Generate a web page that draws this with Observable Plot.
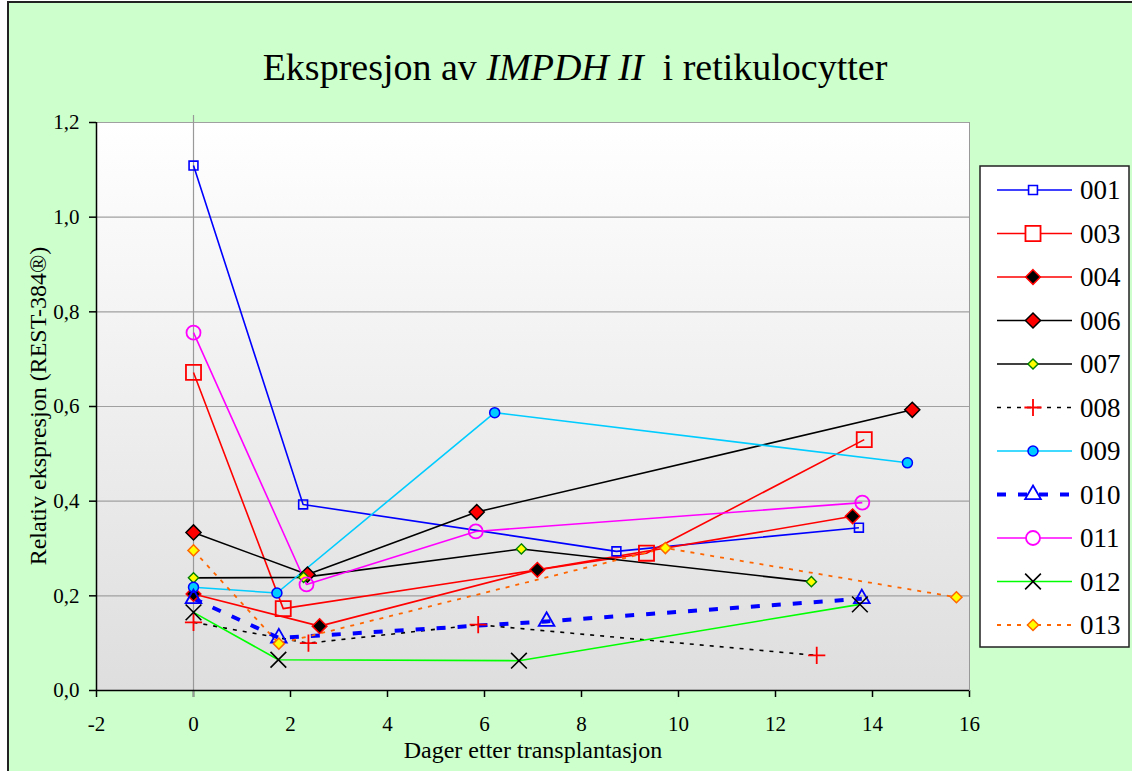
<!DOCTYPE html>
<html>
<head>
<meta charset="utf-8">
<script src="https://cdn.jsdelivr.net/npm/d3@7"></script>
<script src="https://cdn.jsdelivr.net/npm/@observablehq/plot@0.6"></script>
<style>
  html, body { margin: 0; padding: 0; overflow: hidden; background: #ffffff; }
  #wrap { position: relative; width: 1132px; height: 771px; overflow: hidden; font-family: "Liberation Serif", "Times New Roman", serif; color: #000; }
  #bg { position: absolute; left: 7px; top: 1px; width: 1140px; height: 790px; background: #ccffcc; border-left: 2px solid #222; border-top: 2px solid #222; }
  #title { position: absolute; left: 0; width: 1150px; top: 48px; text-align: center; font-size: 38px; line-height: 1; white-space: pre; }
  #chart { position: absolute; left: 0; top: 0; }
  #xtitle { position: absolute; left: 0; width: 1066px; top: 738px; text-align: center; font-size: 24px; line-height: 1; }
  #ytitle { position: absolute; left: 38px; top: 406px; font-size: 24px; line-height: 1; white-space: nowrap; transform: translate(-50%, -50%) rotate(-90deg); }
  #legend { position: absolute; left: 0; top: 0; }
</style>
</head>
<body>
<div id="wrap">
  <div id="bg"></div>
  <div id="chart"></div>
  <div id="title">Ekspresjon av <i>IMPDH II</i>  i retikulocytter</div>
  <div id="xtitle">Dager etter transplantasjon</div>
  <div id="ytitle">Relativ ekspresjon (REST-384®)</div>
  <svg id="legend" width="1132" height="771"></svg>
</div>
<script>
// ---- data ----
const seriesNames = ["001","003","004","006","007","008","009","010","011","012","013"];
const xTicks = [-2, 0, 2, 4, 6, 8, 10, 12, 14, 16];
const yTicks = [0, 0.2, 0.4, 0.6, 0.8, 1.0, 1.2];

const x001 = [0, 2.26, 8.72, 13.72],  y001 = [1.109, 0.393, 0.294, 0.344];
const x003 = [0, 1.85, 9.34, 13.83],  y003 = [0.672, 0.173, 0.290, 0.530];
const x004 = [0, 2.60, 7.09, 13.59],  y004 = [0.204, 0.136, 0.255, 0.368];
const x006 = [0, 2.35, 5.84, 14.82],  y006 = [0.334, 0.245, 0.377, 0.593];
const x007 = [0, 2.27, 6.76, 12.74],  y007 = [0.238, 0.239, 0.299, 0.230];
const x008 = [0, 2.37, 5.87, 12.85],  y008 = [0.144, 0.100, 0.139, 0.074];
const x009 = [0, 1.72, 6.21, 14.72],  y009 = [0.218, 0.206, 0.587, 0.481];
const x010 = [0, 1.76, 7.28, 13.78],  y010 = [0.194, 0.111, 0.146, 0.194];
const x011 = [0, 2.33, 5.82, 13.79],  y011 = [0.756, 0.224, 0.336, 0.397];
const x012 = [0, 1.75, 6.71, 13.74],  y012 = [0.165, 0.065, 0.063, 0.182];
const x013 = [0, 1.76, 9.73, 15.73],  y013 = [0.296, 0.099, 0.301, 0.197];

const xs = {"001": x001, "003": x003, "004": x004, "006": x006, "007": x007, "008": x008, "009": x009, "010": x010, "011": x011, "012": x012, "013": x013};
const ys = {"001": y001, "003": y003, "004": y004, "006": y006, "007": y007, "008": y008, "009": y009, "010": y010, "011": y011, "012": y012, "013": y013};

// ---- styles ----
const styles = {
  "001": {line: "#0000ff", lw: 1.6, dash: null,  symbol: "square",   r: 5.0, fill: "none",    stroke: "#0000ff", sw: 1.6},
  "003": {line: "#ff0000", lw: 1.6, dash: null,  symbol: "square",   r: 8.5, fill: "none",    stroke: "#ff0000", sw: 1.8},
  "004": {line: "#ff0000", lw: 1.6, dash: null,  symbol: "diamond2", r: 6.6, fill: "#000000", stroke: "#ff0000", sw: 1.5},
  "006": {line: "#000000", lw: 1.6, dash: null,  symbol: "diamond2", r: 6.8, fill: "#ff0000", stroke: "#000000", sw: 1.5},
  "007": {line: "#000000", lw: 1.6, dash: null,  symbol: "diamond2", r: 4.6, fill: "#ffff00", stroke: "#008000", sw: 1.4},
  "008": {line: "#000000", lw: 1.6, dash: "4,6", symbol: "plus",     r: 5.6, fill: "none",    stroke: "#ff0000", sw: 1.8},
  "009": {line: "#00ccff", lw: 1.6, dash: null,  symbol: "circle",   r: 5.0, fill: "#00ccff", stroke: "#0000ff", sw: 1.5},
  "010": {line: "#0000ff", lw: 4.0, dash: "9,12", symbol: "triangle2", r: 7.5, fill: "none", stroke: "#0000ff", sw: 1.8},
  "011": {line: "#ff00ff", lw: 1.6, dash: null,  symbol: "circle",   r: 7.0, fill: "none",    stroke: "#ff00ff", sw: 1.8},
  "012": {line: "#00ff00", lw: 1.6, dash: null,  symbol: "times",    r: 7.2, fill: "none",    stroke: "#000000", sw: 1.6},
  "013": {line: "#ff6600", lw: 1.8, dash: "4,6", symbol: "diamond2", r: 5.0, fill: "#ffff00", stroke: "#ff6600", sw: 1.5}
};

const fmtY = d => d.toFixed(1).replace(".", ",");

const marks = [
  Plot.frame({fill: "url(#plotbg)", stroke: "#999999"}),
  Plot.ruleY(yTicks.filter(d => d > 0), {stroke: "#a0a0a0", strokeWidth: 1.2}),
  Plot.ruleX([0], {stroke: "#999999", strokeWidth: 1.2, y1: -0.015, y2: 1.215}),
  Plot.ruleX([-2], {stroke: "#000000", strokeWidth: 1.5}),
  Plot.ruleY([0], {stroke: "#000000", strokeWidth: 1.5})
];

for (const s of seriesNames) {
  const st = styles[s];
  const rows = xs[s].map((x, i) => ({x, y: ys[s][i]}));
  marks.push(Plot.line(rows, {x: "x", y: "y", stroke: st.line, strokeWidth: st.lw, strokeDasharray: st.dash ?? undefined, strokeLinecap: "butt"}));
}
for (const s of seriesNames) {
  const st = styles[s];
  const rows = xs[s].map((x, i) => ({x, y: ys[s][i]}));
  marks.push(Plot.dot(rows, {x: "x", y: "y", symbol: st.symbol, r: st.r, fill: st.fill, stroke: st.stroke, strokeWidth: st.sw}));
}

const chart = Plot.plot({
  width: 1132,
  height: 771,
  marginLeft: 96,
  marginRight: 163,
  marginTop: 122,
  marginBottom: 81,
  style: {background: "transparent", fontFamily: "'Liberation Serif', 'Times New Roman', serif", fontSize: "21px", color: "#000", maxWidth: "none"},
  x: {domain: [-2, 16], ticks: xTicks, tickFormat: d => String(d), tickSize: 7, tickPadding: 19, label: null},
  y: {domain: [0, 1.2], ticks: yTicks, tickFormat: fmtY, tickSize: 7, tickPadding: 10, label: null},
  marks
});

// gradient for plot area background
const svgSel = d3.select(chart);
const defs = svgSel.insert("defs", ":first-child");
const grad = defs.append("linearGradient").attr("id", "plotbg").attr("x1", 0).attr("y1", 0).attr("x2", 0).attr("y2", 1);
grad.append("stop").attr("offset", "0%").attr("stop-color", "#ffffff");
grad.append("stop").attr("offset", "100%").attr("stop-color", "#dedede");
svgSel.selectAll("g[aria-label='x-axis tick'] path, g[aria-label='y-axis tick'] path").attr("stroke", "#000").attr("stroke-width", 1.5);
document.getElementById("chart").appendChild(chart);

// ---- legend ----
const symbolMap = {
  square: d3.symbolSquare, diamond2: d3.symbolDiamond2, plus: d3.symbolPlus,
  circle: d3.symbolCircle, triangle2: d3.symbolTriangle2, times: d3.symbolTimes
};
const lg = d3.select("#legend");
const lx = 980, ly = 166, lw = 149, lh = 481;
lg.append("rect").attr("x", lx).attr("y", ly).attr("width", lw).attr("height", lh)
  .attr("fill", "#ffffff").attr("stroke", "#222").attr("stroke-width", 1.5);
seriesNames.forEach((s, i) => {
  const st = styles[s];
  const cy = 190 + i * 43.5;
  const g = lg.append("g");
  g.append("line").attr("x1", 997).attr("x2", 1072).attr("y1", cy).attr("y2", cy)
    .attr("stroke", st.line).attr("stroke-width", st.lw)
    .attr("stroke-dasharray", st.dash ?? null);
  g.append("path").attr("transform", `translate(1033,${cy})`)
    .attr("d", d3.symbol(symbolMap[st.symbol], Math.PI * st.r * st.r)())
    .attr("fill", st.fill === "none" ? "#ffffff" : st.fill)
    .attr("fill-opacity", st.fill === "none" && (st.symbol === "plus" || st.symbol === "times") ? 0 : 1)
    .attr("stroke", st.stroke).attr("stroke-width", st.sw);
  g.append("text").attr("x", 1080).attr("y", cy).attr("dy", "0.35em")
    .attr("font-family", "'Liberation Serif', 'Times New Roman', serif").attr("font-size", 27).text(s);
});
</script>
</body>
</html>
